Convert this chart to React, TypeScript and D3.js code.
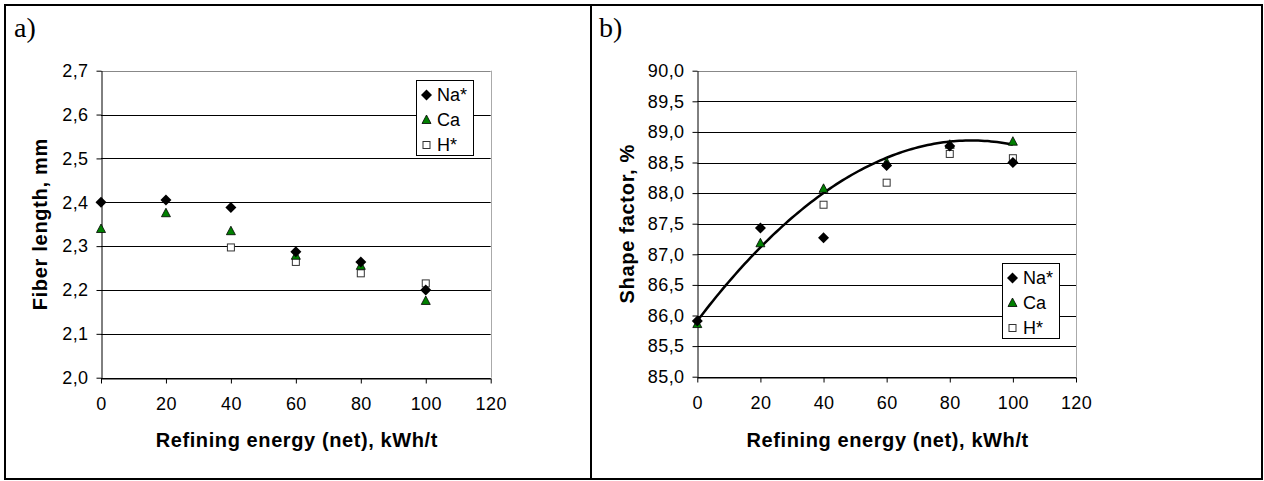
import React, { useEffect, useRef } from 'react';
import * as d3 from 'd3';

// refining energy, kWh/t
const energy = [0, 20, 40, 60, 80, 100];
const xTicks = [0, 20, 40, 60, 80, 100, 120];

// a) fiber length, mm
const lengthNa = [2.4, 2.405, 2.388, 2.287, 2.264, 2.2];
const lengthCa = [2.339, 2.375, 2.334, 2.278, 2.255, 2.175];
const lengthH = [null, null, 2.297, 2.264, 2.238, 2.215];
const lengthTicks = [2.0, 2.1, 2.2, 2.3, 2.4, 2.5, 2.6, 2.7];

// b) shape factor, %
const shapeNa = [85.91, 87.43, 87.27, 88.45, 88.77, 88.5];
const shapeCa = [85.86, 87.18, 88.07, 88.5, 88.79, 88.84];
const shapeH = [null, null, 87.81, 88.17, 88.64, 88.57];
const shapeTicks = [85.0, 85.5, 86.0, 86.5, 87.0, 87.5, 88.0, 88.5, 89.0, 89.5, 90.0];

const seriesNames = ['Na*', 'Ca', 'H*'];

const comma = (v) => d3.format('.1f')(v).replace('.', ',');

// quadratic least squares, like the excel trendline
function polyFit(xs, ys) {
  const pts = xs.map((x, i) => [x, ys[i]]).filter(p => p[1] != null);
  const S = [0, 0, 0, 0, 0];
  const T = [0, 0, 0];
  pts.forEach(([x, y]) => {
    for (let k = 0; k < 5; k++) S[k] += Math.pow(x, k);
    for (let k = 0; k < 3; k++) T[k] += y * Math.pow(x, k);
  });
  const M = [
    [S[0], S[1], S[2], T[0]],
    [S[1], S[2], S[3], T[1]],
    [S[2], S[3], S[4], T[2]]
  ];
  for (let i = 0; i < 3; i++) {
    for (let j = i + 1; j < 3; j++) {
      const f = M[j][i] / M[i][i];
      for (let k = i; k < 4; k++) M[j][k] -= f * M[i][k];
    }
  }
  const c = [0, 0, 0];
  for (let i = 2; i >= 0; i--) {
    let s = M[i][3];
    for (let k = i + 1; k < 3; k++) s -= M[i][k] * c[k];
    c[i] = s / M[i][i];
  }
  return x => c[0] + c[1] * x + c[2] * x * x;
}

function drawMarker(g, type, x, y) {
  if (type === 0) {
    g.append('path')
      .attr('d', `M${x},${y - 5.5}L${x + 5.5},${y}L${x},${y + 5.5}L${x - 5.5},${y}Z`)
      .attr('fill', '#000');
  } else if (type === 1) {
    g.append('path')
      .attr('d', `M${x},${y - 5}L${x + 4.5},${y + 3.5}L${x - 4.5},${y + 3.5}Z`)
      .attr('fill', '#008000')
      .attr('stroke', '#000')
      .attr('stroke-width', 0.8);
  } else {
    g.append('rect')
      .attr('x', x - 3.5).attr('y', y - 3.5)
      .attr('width', 7).attr('height', 7)
      .attr('fill', '#fff')
      .attr('stroke', '#333')
      .attr('stroke-width', 1);
  }
}

function drawPanel(svg, cfg) {
  const g = svg.append('g');
  const x = d3.scaleLinear().domain([0, 120]).range([cfg.left, cfg.right]);
  const y = d3.scaleLinear().domain(cfg.domain).range([cfg.bottom, cfg.top]);
  const font = 'Arial, "Liberation Sans", sans-serif';

  // grid
  cfg.yTicks.forEach(t => {
    g.append('line')
      .attr('x1', cfg.left).attr('x2', cfg.right)
      .attr('y1', Math.round(y(t)) + 0.5).attr('y2', Math.round(y(t)) + 0.5)
      .attr('stroke', t === cfg.domain[1] ? '#888' : '#000')
      .attr('stroke-width', 1);
  });
  // right border of plot area
  g.append('line')
    .attr('x1', Math.round(cfg.right) + 0.5).attr('x2', Math.round(cfg.right) + 0.5)
    .attr('y1', cfg.top).attr('y2', cfg.bottom)
    .attr('stroke', '#aaa');

  // axes
  const yAxis = d3.axisLeft(y).tickValues(cfg.yTicks).tickFormat(comma).tickSize(5).tickSizeOuter(0);
  const xAxis = d3.axisBottom(x).tickValues(xTicks).tickSize(5).tickSizeOuter(0).tickPadding(14);
  const ya = g.append('g').attr('transform', `translate(${Math.round(cfg.left) + 0.5},0)`).call(yAxis);
  const xa = g.append('g').attr('transform', `translate(0,${Math.round(cfg.bottom) + 0.5})`).call(xAxis);
  [ya, xa].forEach(a => {
    a.selectAll('path').attr('stroke', '#000');
    a.selectAll('line').attr('stroke', '#000');
    a.selectAll('text').attr('font-family', font).attr('font-size', 18)
      .attr('letter-spacing', 0.4).attr('fill', '#000');
  });
  ya.selectAll('text').attr('dx', -5);

  // trendline
  if (cfg.trend) {
    const f = polyFit(energy, cfg.trend);
    const pts = d3.range(0, 100.5, 1).map(v => [v, f(v)]);
    g.append('path')
      .attr('d', d3.line().x(d => x(d[0])).y(d => y(d[1])).curve(d3.curveBasis)(pts))
      .attr('fill', 'none')
      .attr('stroke', '#000')
      .attr('stroke-width', 2.5);
  }

  // points, H* first so the others sit on top
  [2, 1, 0].forEach(k => {
    cfg.series[k].forEach((v, i) => {
      if (v == null) return;
      drawMarker(g, k, x(energy[i]), y(v));
    });
  });

  // titles
  g.append('text')
    .attr('x', (cfg.left + cfg.right) / 2 + 1)
    .attr('y', 447)
    .attr('text-anchor', 'middle')
    .attr('font-family', font).attr('font-weight', 'bold').attr('font-size', 20)
    .attr('letter-spacing', 0.6)
    .text('Refining energy (net), kWh/t');
  g.append('text')
    .attr('transform', `translate(${cfg.titleX},${(cfg.top + cfg.bottom) / 2}) rotate(-90)`)
    .attr('text-anchor', 'middle')
    .attr('dy', '0.35em')
    .attr('font-family', font).attr('font-weight', 'bold').attr('font-size', 20)
    .attr('letter-spacing', 0.7)
    .text(cfg.yTitle);

  // legend
  const lg = g.append('g');
  lg.append('rect')
    .attr('x', cfg.legend[0] + 0.5).attr('y', cfg.legend[1] + 0.5)
    .attr('width', 57).attr('height', 75)
    .attr('fill', '#fff').attr('stroke', '#000').attr('stroke-width', 1);
  seriesNames.forEach((name, k) => {
    const ly = cfg.legend[1] + 15 + k * 25;
    drawMarker(lg, k, cfg.legend[0] + 10.5, ly);
    lg.append('text')
      .attr('x', cfg.legend[0] + 21).attr('y', ly)
      .attr('dy', '0.36em')
      .attr('font-family', font).attr('font-size', 18)
      .text(name);
  });

  // panel letter
  svg.append('text')
    .attr('x', cfg.letterX).attr('y', 37)
    .attr('font-family', '"Liberation Serif", "Times New Roman", serif')
    .attr('font-size', 28)
    .text(cfg.letter);
}

export default function App() {
  const ref = useRef(null);

  useEffect(() => {
    const svg = d3.select(ref.current);
    svg.selectAll('*').remove();
    svg.append('rect').attr('width', 1264).attr('height', 481).attr('fill', '#fff');

    // outer frame + divider
    svg.append('rect')
      .attr('x', 5).attr('y', 5).attr('width', 1257).attr('height', 474)
      .attr('fill', 'none').attr('stroke', '#000').attr('stroke-width', 2);
    svg.append('line')
      .attr('x1', 591).attr('x2', 591).attr('y1', 5).attr('y2', 479)
      .attr('stroke', '#000').attr('stroke-width', 2);

    drawPanel(svg, {
      left: 101, right: 490.7, top: 70.7, bottom: 377.7,
      domain: [2.0, 2.7], yTicks: lengthTicks,
      series: [lengthNa, lengthCa, lengthH],
      yTitle: 'Fiber length, mm', titleX: 40,
      legend: [416, 80], letter: 'a)', letterX: 14
    });
    drawPanel(svg, {
      left: 697.3, right: 1076, top: 70.7, bottom: 376.7,
      domain: [85, 90], yTicks: shapeTicks,
      series: [shapeNa, shapeCa, shapeH], trend: shapeCa,
      yTitle: 'Shape factor, %', titleX: 627,
      legend: [1002, 263], letter: 'b)', letterX: 599
    });
  }, []);

  return (
    <svg ref={ref} width={1264} height={481} style={{ position: 'absolute', left: 0, top: 0 }} />
  );
}
